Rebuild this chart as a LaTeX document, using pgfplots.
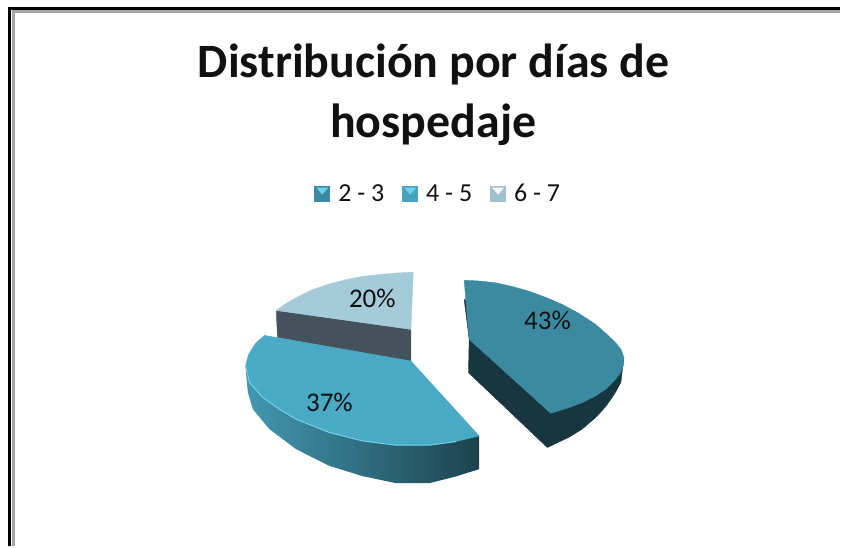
\documentclass[border=0pt]{standalone}
\usepackage{fontspec}
\setmainfont{Carlito}
\usepackage{pgfplots}
\pgfplotsset{compat=1.18}
\definecolor{topA}{HTML}{3C8AA2}
\definecolor{wallA}{HTML}{17363F}
\definecolor{topB}{HTML}{4AA9C5}
\definecolor{edgeB}{HTML}{6FD0EA}
\definecolor{topC}{HTML}{A5CBDB}
\definecolor{wallC}{HTML}{44525B}
\definecolor{txt}{HTML}{111111}
\pgfplotsset{
  flat/.style={no marks, line join=round, line width=0.4pt},
  key/.style n args={2}{legend image code/.code={
    \path[draw=none,fill=none] (0pt,-8pt) rectangle (22pt,8pt);
    \fill[draw=none,#1] (0pt,-8pt) rectangle (16pt,8pt);
    \fill[draw=none,#2] (2pt,6pt) -- (14pt,6pt) -- (8pt,-1pt) -- cycle;
  }}
}
\begin{document}
\begin{tikzpicture}
\begin{axis}[
    scale only axis,
    width=841pt,
    height=547pt,
    xmin=0, xmax=841,
    ymin=0, ymax=547,
    y dir=reverse,
    hide axis,
    clip=false,
    legend columns=3,
    legend cell align=left,
    legend style={at={(axis cs:439,194)}, anchor=center, draw=none, fill=none,
      font=\fontsize{26}{26}\selectfont\color{txt},
      /tikz/every even column/.append style={column sep=16pt}},
]
% legend keys
\addlegendimage{key={topA}{edgeB}}
\addlegendentry{2 - 3}
\addlegendimage{key={topB!80!topA}{edgeB}}
\addlegendentry{4 - 5}
\addlegendimage{key={topC!85!gray}{white!85!topC}}
\addlegendentry{6 - 7}
% page extent
\addplot[forget plot, draw=none, no marks] coordinates {(0,0) (841,547)};
% window frame
\addplot[forget plot, no marks, line width=3pt, black] coordinates {(9.3,547) (9.3,9) (841,9)};
\addplot[forget plot, no marks, line width=2.6pt, gray!70] coordinates {(13.6,547) (13.6,11.7) (841,11.7)};
% slice 6-7
\addplot[forget plot, flat, draw=wallC, fill=wallC] coordinates {
  (276.7,311) (278,338) (411.7,362) (411.7,330)} -- cycle;
\addplot[forget plot, flat, draw=topC, fill=topC] coordinates {
  (414,272.7) (397,273.5) (380,275) (363,277) (346.7,280) (330,284.5) (313.3,290)
  (303,295) (293.3,300) (285,305) (276.7,311) (411.7,330)} -- cycle;
% slice 4-5
\addplot[forget plot, flat, draw=none, left color=topB!90!black, middle color=topA!85!black, right color=wallA!85!topA, shading=axis] coordinates {
  (246,366.7) (247,380) (248.3,393) (253.3,410) (270,430) (296.7,450) (330,466.7)
  (363.3,477) (396.7,484) (430,484) (456,477.5) (480,470) (480,436.7)} -- cycle;
\addplot[forget plot, flat, draw=topB, fill=topB] coordinates {
  (480,436.7) (456.7,442.3) (430,446) (396.7,446) (363.3,441.7) (330,433.3)
  (296.7,420) (280,410) (263.3,398.3) (250,383.3) (246,366.7)
  (249,355) (256,344) (265,336) (411.7,361.7)} -- cycle;
\addplot[forget plot, no marks, line width=1pt, edgeB] coordinates {
  (456.7,442.3) (430,446) (396.7,446) (363.3,441.7) (330,433.3)
  (296.7,420) (280,410) (263.3,398.3) (250,383.3) (246,366.7)};
% slice 2-3
\addplot[forget plot, flat, draw=wallA, fill=wallA] coordinates {
  (465,300) (470,340) (469.3,373.3) (548.3,448.3) (570,438) (583,430) (597,418)
  (607,407) (616,394) (622,383) (625,358)} -- cycle;
\addplot[forget plot, flat, draw=topA, fill=topA] coordinates {
  (465,280.7) (480,281.5) (496.7,283.3) (513,287) (530,291.7) (547,298) (563.3,305)
  (580,314) (596.7,325) (607,334) (616.7,343.3) (622,350) (625,358) (624.5,366)
  (621.7,373.3) (615,382) (606.7,390) (596,397) (583.3,403.3) (568,409) (551.7,414)
  (470,340)} -- cycle;
% text
\node[font=\fontsize{48}{48}\selectfont\bfseries, text=txt] at (axis cs:434.5,64.5) {Distribución por días de};
\node[font=\fontsize{48}{48}\selectfont\bfseries, text=txt] at (axis cs:434,124.5) {hospedaje};
\node[font=\fontsize{27}{27}\selectfont, text=txt] at (axis cs:548.5,321) {43\%};
\node[font=\fontsize{27}{27}\selectfont, text=txt] at (axis cs:330,403) {37\%};
\node[font=\fontsize{27}{27}\selectfont, text=txt] at (axis cs:373,299) {20\%};
\end{axis}
\end{tikzpicture}
\end{document}
